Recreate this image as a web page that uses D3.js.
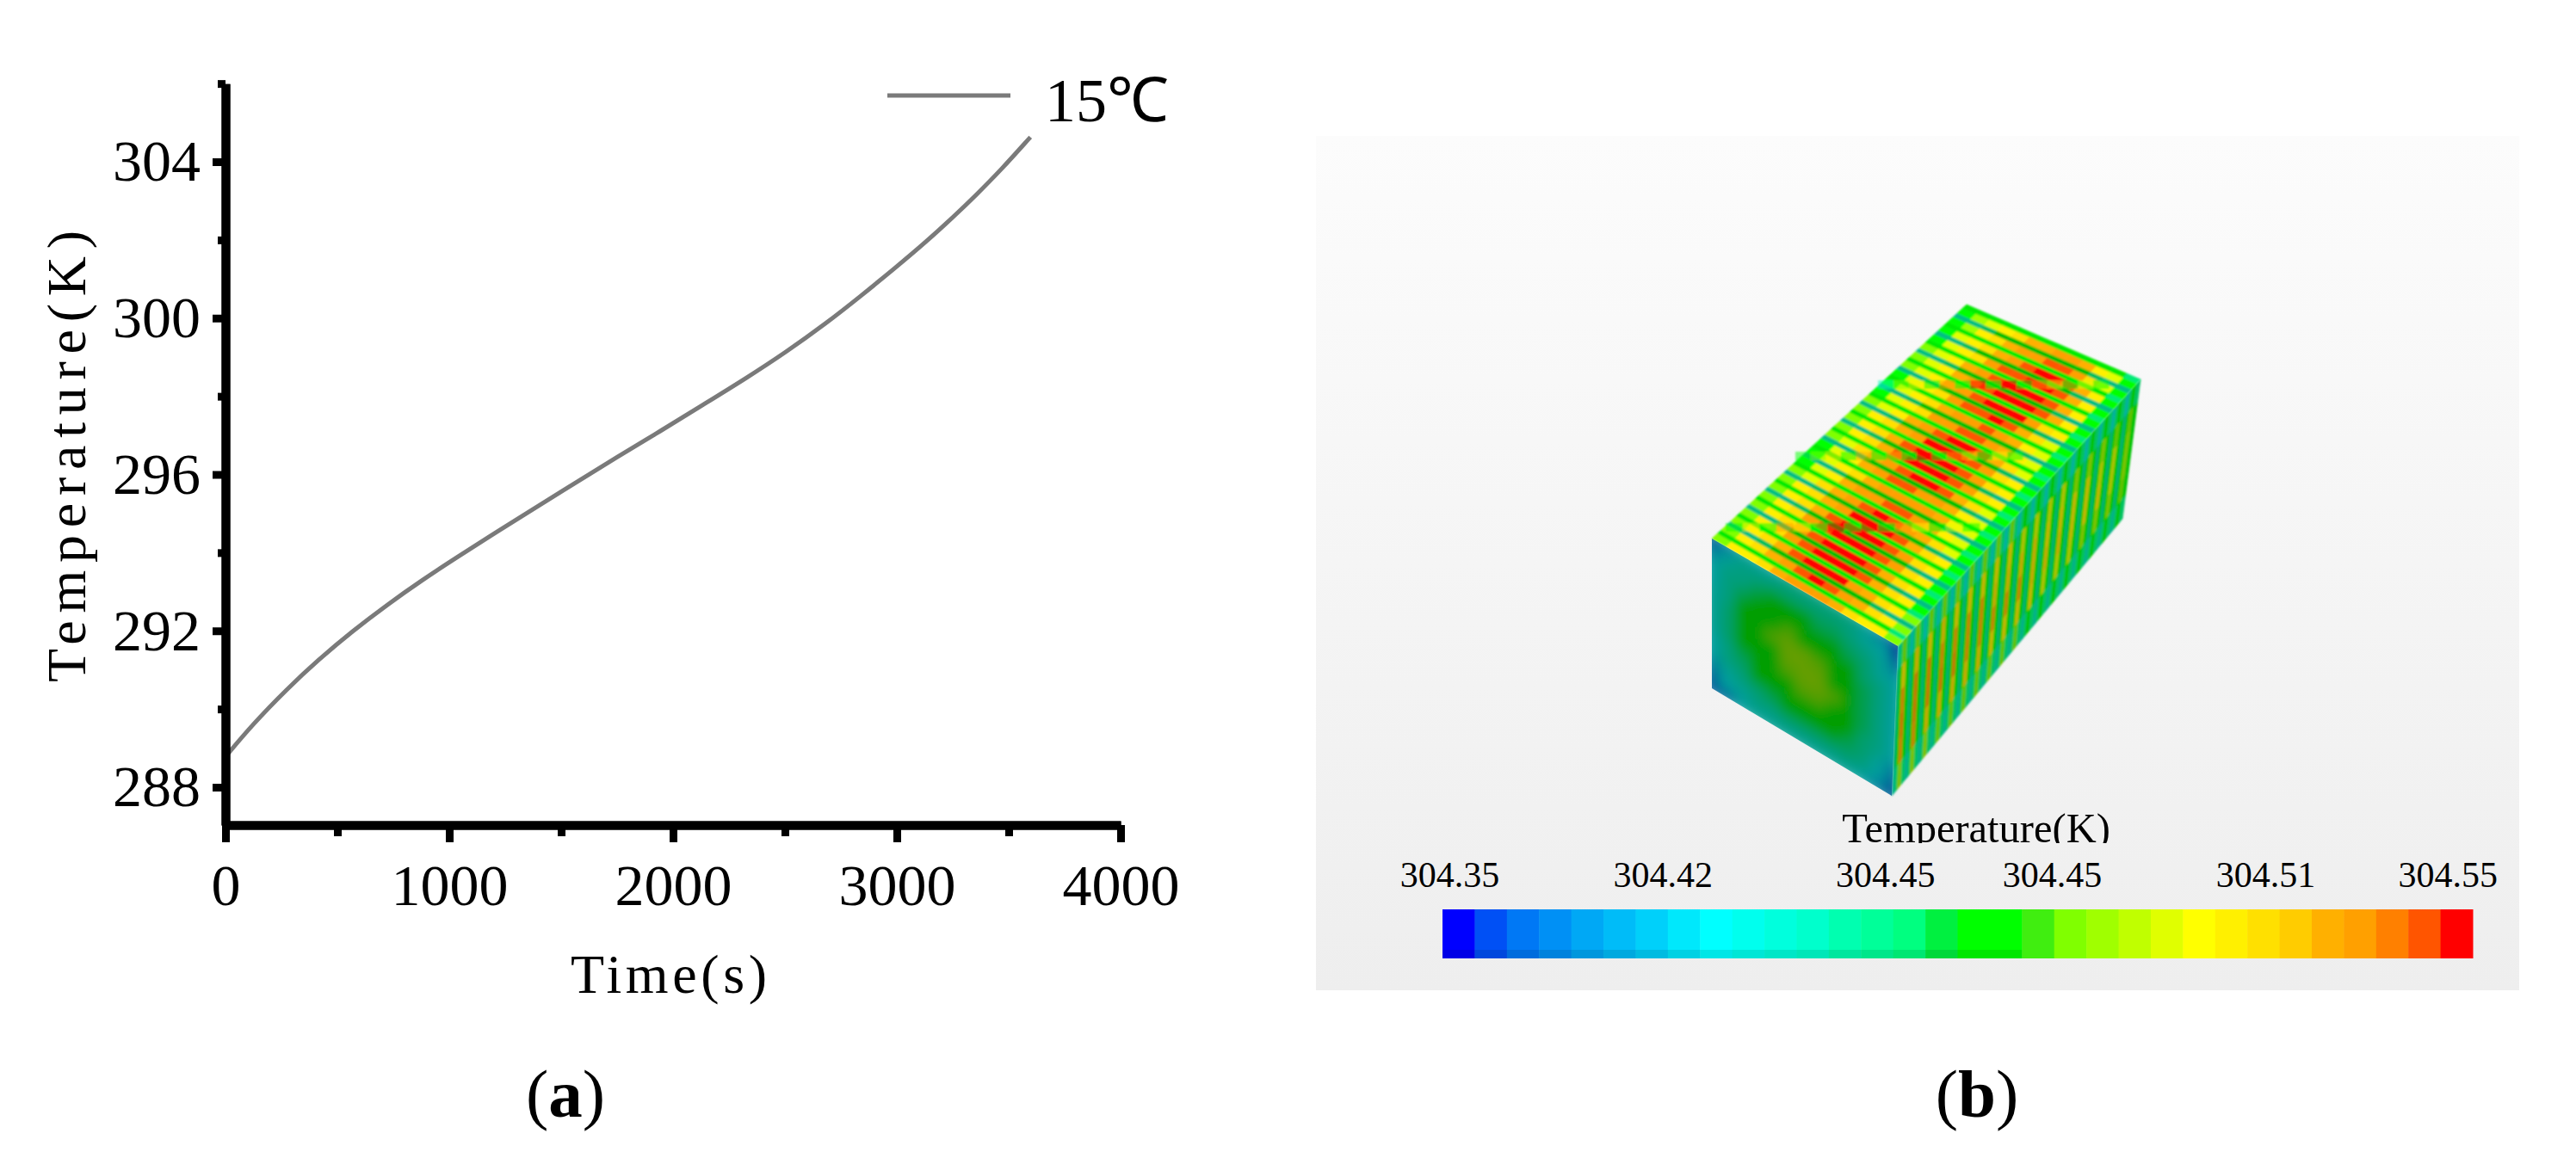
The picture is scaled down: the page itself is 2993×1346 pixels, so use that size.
<!DOCTYPE html>
<html><head><meta charset="utf-8">
<script src="https://cdn.jsdelivr.net/npm/d3@7/dist/d3.min.js"></script>
<style>html,body{margin:0;padding:0;background:#fff}svg{display:block}text{font-family:"Liberation Serif",serif;fill:#000}</style>
</head><body><svg id="c" width="2993" height="1346"></svg>
<script>
// ---------- panel (a) data ----------
const timeValues = [0,120,274,415,569,723,877,1031,1185,1326,1500,1762,1941,2133,2326,2505,2685,2838,2992,3133,3262,3351,3467,3597];
const tempValues = [288.78,289.60,290.51,291.26,292.00,292.67,293.29,293.87,294.43,294.94,295.56,296.49,297.10,297.78,298.46,299.13,299.87,300.56,301.28,301.96,302.64,303.13,303.80,304.63];
const xMajorTicks = [0,1000,2000,3000,4000];
const xMinorTicks = [500,1500,2500,3500];
const yMajorTicks = [288,292,296,300,304];
const yMinorTicks = [290,294,298,302,306];
const seriesName = "15℃";
const xTitle = "Time(s)";
const yTitle = "Temperature(K)";
// ---------- panel (b) data ----------
const barLabels = ["304.35","304.42","304.45","304.45","304.51","304.55"];
const barLabelPositions = [0.007,0.214,0.430,0.592,0.799,0.976];
const barTitle = "Temperature(K)";
const bandColors = ["#0000ff","#0050f5","#0078f5","#0090f5","#00a8f5","#00bcf8","#00d0fa","#00e8fc","#00ffff","#00ffee","#00ffdd","#00ffcc","#00ffb0","#00ff99","#00ff80","#00f040","#00ff00","#00ff00","#40ee10","#80ff00","#a0ff00","#c0ff00","#e0ff00","#ffff00","#fff000","#ffe000","#ffcc00","#ffb000","#ffa000","#ff8000","#ff5500","#ff0000"];
// temperatures below, in hundredths of a kelvin above 304 K
const topCore = [
[47,50,50,51,52,53,53,53,52,51,50,50,47],
[47,50,51,52,53,54,55,54,53,52,51,50,47],
[47,50,51,52,54,55,55,55,53,52,51,50,47],
[47,50,51,53,54,55,55,55,54,52,51,50,46],
[47,50,51,53,54,55,55,55,54,52,51,50,46],
[47,50,51,53,54,55,55,55,54,53,51,50,46],
[47,50,51,52,54,55,55,55,54,53,51,50,46],
[47,50,51,52,53,55,55,55,54,52,51,50,46],
[47,49,51,52,53,54,55,54,53,52,51,49,46],
[46,49,50,52,53,53,54,54,53,52,50,49,46],
[46,49,50,51,52,53,53,53,53,52,50,49,46],
[46,49,50,52,53,54,54,53,53,52,50,49,46],
[47,49,51,52,53,54,55,55,54,52,51,49,46],
[47,50,51,52,54,55,55,55,54,53,51,50,46],
[47,50,51,52,54,55,55,55,54,53,51,50,46],
[47,50,51,52,53,55,55,55,54,53,51,50,46],
[47,49,50,52,53,54,55,55,54,52,51,49,46],
[46,49,50,51,53,53,54,54,53,52,50,49,46],
[46,49,50,51,52,53,53,54,53,52,50,49,46],
[46,49,50,51,53,54,54,55,54,52,51,49,46],
[47,49,50,52,53,54,55,55,55,53,51,50,46],
[47,49,50,52,53,54,55,55,55,54,52,50,46],
[47,49,50,52,53,54,55,55,55,54,52,50,46],
[46,49,50,51,53,54,54,55,55,54,52,50,46],
[46,49,50,51,52,53,54,55,55,54,52,50,46],
[46,48,50,51,52,53,53,54,54,53,51,49,46],
[46,48,49,50,51,52,52,53,53,52,50,49,46]];
const topGapBright = [45,46,45,45,45,45,45,45,45,45,45,46,44];
const topGapTeal = [43,43,44,45,45,45,45,45,45,45,44,43,43];
const seamFront = [45,50,45,53,50,46,55,46,55,46,53,50,46,49,46];
const seamMiddle = [46,47,50,45,52,46,53,46,55,46,53,50,46,50,46];
const seamBack = [43,47,50,45,53,45,55,45,55,45,53,50,46,49,45];
const sideCore = [
[47,50,52,53,52,48],[47,51,53,53,52,48],[47,50,53,53,51,48],[47,51,52,53,51,47],
[47,50,52,53,51,47],[47,50,52,52,51,47],[47,50,52,52,51,47],[47,50,51,52,50,47],
[47,50,51,52,50,47],[46,49,51,52,50,47],[46,49,51,51,50,46],[46,49,50,51,49,46],
[46,49,50,51,49,46],[46,48,50,50,49,46],[46,48,50,50,48,46],[46,48,49,50,48,46],
[46,47,49,49,48,46],[46,47,48,48,47,46]];
const sideGapTeal = [41,43,43,43,43,42];
const sideGapGreen = [44,45,45,45,45,44];
const frontField = [
[37,39,41,41,41,42,42,42,42,42,41,39,36],
[39,41,42,42,43,43,43,43,43,42,41,40,37],
[40,42,42,44,45,45,45,44,44,43,42,41,39],
[40,42,44,45,45,46,45,45,45,44,43,41,40],
[41,42,45,45,46,47,46,46,45,45,43,42,40],
[41,43,45,45,47,48,48,47,46,45,44,42,40],
[41,43,45,45,46,48,48,48,46,45,44,42,40],
[41,43,45,45,46,47,48,48,47,45,44,42,40],
[40,42,44,45,45,46,47,47,46,45,44,42,40],
[40,42,43,45,45,45,46,46,45,45,43,42,40],
[39,41,42,43,44,45,45,45,45,44,43,41,39],
[38,40,41,42,42,43,43,43,43,43,42,40,38],
[37,38,40,41,41,41,41,41,41,41,40,39,37]];

const svg = d3.select("#c");
const defs = svg.append("defs");

// ---------- panel (a) ----------
const x = d3.scaleLinear().domain([0,4000]).range([262,1302]);
const y = d3.scaleLinear().domain([288,304]).range([915,188]);
const yBottom = 959, yTop = y(306);

const line = d3.line().x((d,i)=>x(timeValues[i])).y(d=>y(d)).curve(d3.curveBasis);
const a = svg.append("g");
a.append("path").attr("d",line(tempValues)).attr("fill","none").attr("stroke","#7a7a7a").attr("stroke-width",5);

function styleAxis(g){
  g.select(".domain").attr("stroke","#000").attr("stroke-width",10);
  g.selectAll(".tick line").attr("stroke","#000").attr("stroke-width",9);
  g.selectAll(".tick text").style("font-size","68px").style("font-family",'"Liberation Serif",serif').attr("fill","#000");
}
const xa = a.append("g").attr("transform",`translate(0,${yBottom})`);
xa.call(d3.axisBottom(x).tickValues(xMajorTicks).tickFormat(d3.format("d")).tickSize(20).tickSizeOuter(0).tickPadding(25)).call(styleAxis);
const xm = a.append("g").attr("transform",`translate(0,${yBottom})`);
xm.call(d3.axisBottom(x).tickValues(xMinorTicks).tickFormat("").tickSize(13).tickSizeOuter(0)).call(styleAxis);
const yScaleAxis = y.copy().domain([y.invert(yBottom),306]).range([yBottom,yTop]);
const ya = a.append("g").attr("transform","translate(262,0)");
ya.call(d3.axisLeft(yScaleAxis).tickValues(yMajorTicks).tickFormat(d3.format("d")).tickSize(15).tickSizeOuter(0).tickPadding(14)).call(styleAxis);
const ym = a.append("g").attr("transform","translate(262,0)");
ym.call(d3.axisLeft(yScaleAxis).tickValues(yMinorTicks).tickFormat("").tickSize(9).tickSizeOuter(0)).call(styleAxis);

a.append("text").text(xTitle).attr("x",663).attr("y",1154).attr("font-size",64)
  .attr("textLength",228).attr("lengthAdjust","spacing");
a.append("text").text(yTitle).attr("transform","translate(99,793) rotate(-90)").attr("font-size",64)
  .attr("textLength",525).attr("lengthAdjust","spacing");
a.append("line").attr("x1",1031).attr("x2",1174).attr("y1",111).attr("y2",111).attr("stroke","#7a7a7a").attr("stroke-width",5);
a.append("text").text(seriesName).attr("x",1214).attr("y",141).attr("font-size",72);

function caption(cx,letter){
  const t = svg.append("text").attr("x",cx).attr("y",1298).attr("text-anchor","middle").attr("font-size",79);
  t.append("tspan").text("(");
  t.append("tspan").text(letter).attr("font-weight","bold");
  t.append("tspan").text(")");
}
caption(657,"a");
caption(2297,"b");

// ---------- panel (b) backdrop ----------
const grad = defs.append("linearGradient").attr("id","bg").attr("x1",0).attr("x2",0).attr("y1",0).attr("y2",1);
grad.append("stop").attr("offset",0).attr("stop-color","#fcfcfc");
grad.append("stop").attr("offset",1).attr("stop-color","#eeeeee");
svg.append("rect").attr("x",1529).attr("y",158).attr("width",1398).attr("height",993).attr("fill","url(#bg)");

// ---------- colour scale and colour bar ----------
const colorOf = d3.scaleQuantize().domain([35,55]).range(bandColors);
const shade = (c,f)=>{const r=d3.rgb(c);return d3.rgb(r.r*f,r.g*f,r.b*f).formatHex();};
const barX = d3.scaleBand().domain(d3.range(bandColors.length)).range([1676,2873]);
const bar = svg.append("g");
bar.selectAll("rect.top").data(bandColors).join("rect").attr("class","top")
  .attr("x",(d,i)=>barX(i)).attr("width",barX.bandwidth()+0.5).attr("y",1057).attr("height",47).attr("fill",d=>d);
bar.selectAll("rect.low").data(bandColors).join("rect").attr("class","low")
  .attr("x",(d,i)=>barX(i)).attr("width",barX.bandwidth()+0.5).attr("y",1104).attr("height",10)
  .attr("fill",(d,i)=>i<18?shade(d,0.9):d);
const barLabelX = d3.scaleLinear().domain([0,1]).range([1676,2873]);
bar.selectAll("text.lab").data(barLabels).join("text").attr("class","lab")
  .attr("x",(d,i)=>barLabelX(barLabelPositions[i])).attr("y",1031).attr("font-size",42)
  .attr("text-anchor","middle").text(d=>d);
defs.append("clipPath").attr("id","titleClip").append("rect").attr("x",2100).attr("y",930).attr("width",400).attr("height",50);
bar.append("text").text(barTitle).attr("x",2296).attr("y",979).attr("font-size",48.5)
  .attr("text-anchor","middle").attr("clip-path","url(#titleClip)");

// ---------- box: bilinear projection of (u,v) face coordinates ----------
const face = (p00,p10,p01,p11)=>{
  const sx0=d3.scaleLinear().domain([0,1]).range([p00[0],p10[0]]), sx1=d3.scaleLinear().domain([0,1]).range([p01[0],p11[0]]);
  const sy0=d3.scaleLinear().domain([0,1]).range([p00[1],p10[1]]), sy1=d3.scaleLinear().domain([0,1]).range([p01[1],p11[1]]);
  return (u,v)=>[sx0(u)+(sx1(u)-sx0(u))*v, sy0(u)+(sy1(u)-sy0(u))*v];
};
const A=[1989,626],B=[2205,751],C=[2487,441],D=[2285,354],Bb=[2198,925],Cb=[2466,603],Ab=[1989,800];
const topFace = face(A,B,D,C);
const sideFace = face(B,Bb,C,Cb);
const frontFace = face(A,B,Ab,Bb);
const quad = (f,u0,u1,v0,v1)=>[f(u0,v0),f(u1,v0),f(u1,v1),f(u0,v1)].map(p=>p.map(n=>n.toFixed(1)).join(",")).join(" ");

defs.append("filter").attr("id","soft").attr("x","-5%").attr("y","-5%").attr("width","110%").attr("height","110%")
  .append("feGaussianBlur").attr("stdDeviation",1.0);
defs.append("filter").attr("id","softer").attr("x","-15%").attr("y","-15%").attr("width","130%").attr("height","130%")
  .append("feGaussianBlur").attr("stdDeviation",7);
defs.append("clipPath").attr("id","frontClip").append("polygon").attr("points",quad(frontFace,0,1,0,1));

const box = svg.append("g");
function poly(g,f,u0,u1,v0,v1,fill){
  g.append("polygon").attr("points",quad(f,u0,u1,v0,v1)).attr("fill",fill).attr("stroke",fill).attr("stroke-width",0.7);
}

// side face: vertical stripes, one group per fin
const sideG = box.append("g").attr("filter","url(#soft)");
const sideShade = 0.76;
const sideFin = d3.scaleLinear().domain([0,sideCore.length]).range([0,1]);
sideCore.forEach((row,i)=>{
  const v0=sideFin(i), v1=sideFin(i+1), w=v1-v0;
  const rowPos=d3.scaleLinear().domain([0,row.length]).range([0,1]);
  row.forEach((val,j)=>{
    const a0=rowPos(j), a1=rowPos(j+1);
    poly(sideG,sideFace,a0,a1,v0,v0+w*0.22,shade(colorOf(sideGapTeal[j]),sideShade*0.9));
    poly(sideG,sideFace,a0,a1,v0+w*0.22,v0+w*0.42,shade(colorOf(sideGapGreen[j]),sideShade));
    poly(sideG,sideFace,a0,a1,v0+w*0.42,v0+w*0.72,shade(colorOf(val),sideShade));
    poly(sideG,sideFace,a0,a1,v0+w*0.72,v1,shade(colorOf(sideGapGreen[j]),sideShade));
  });
});

// top face: a warm strip and a cool strip per row
const topG = box.append("g").attr("filter","url(#soft)");
const topRow = d3.scaleLinear().domain([0,topCore.length]).range([0,1]);
topCore.forEach((row,i)=>{
  const v0=topRow(i), v1=topRow(i+1), w=v1-v0;
  const colPos=d3.scaleLinear().domain([0,row.length]).range([0,1]);
  const gap = i%2 ? topGapTeal : topGapBright;
  row.forEach((val,j)=>{
    const u0=colPos(j), u1=colPos(j+1);
    poly(topG,topFace,u0,u1,v0,v0+w*0.6,colorOf(val));
    poly(topG,topFace,u0,u1,v0+w*0.6,v1,shade(colorOf(gap[j]),i%2?0.75:0.92));
  });
});
// module seams on the top face
[[seamFront,2005,2300,613],[seamMiddle,2086,2350,530],[seamBack,2182,2450,447]].forEach(([vals,x0,x1,yy])=>{
  const sx=d3.scaleBand().domain(d3.range(vals.length)).range([x0,x1]);
  topG.selectAll(null).data(vals).join("rect").attr("x",(d,i)=>sx(i)).attr("width",sx.bandwidth()+0.5)
    .attr("y",yy-5).attr("height",10).attr("fill",d=>colorOf(d)).attr("opacity",0.5);
});

// front face: smooth field
const frontClip = box.append("g").attr("clip-path","url(#frontClip)");
const frontG = frontClip.append("g").attr("filter","url(#softer)");
const fracU=d3.scaleLinear().domain([0,frontField[0].length]).range([-0.04,1.04]);
const fracV=d3.scaleLinear().domain([0,frontField.length]).range([-0.04,1.04]);
frontField.forEach((row,i)=>row.forEach((val,j)=>{
  poly(frontG,frontFace,fracU(j),fracU(j+1),fracV(i),fracV(i+1),shade(colorOf(val),0.62));
}));
</script></body></html>
